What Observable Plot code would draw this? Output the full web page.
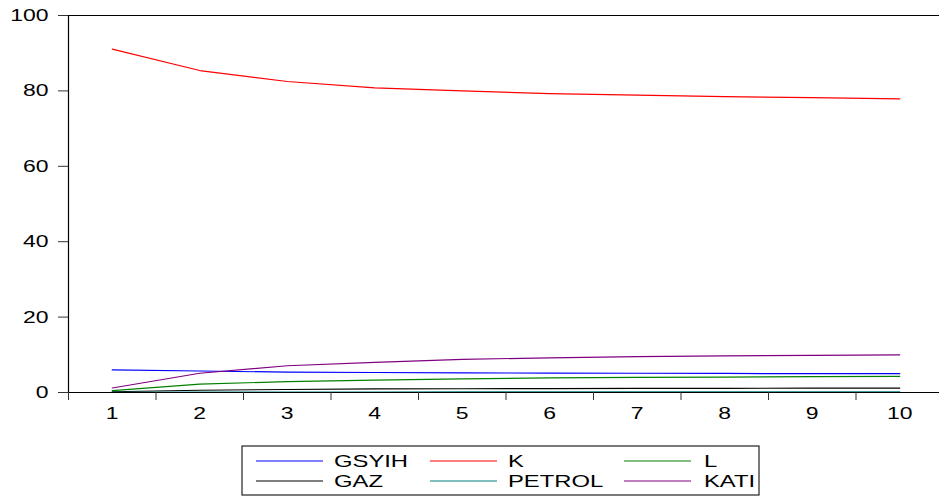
<!DOCTYPE html>
<html>
<head>
<meta charset="utf-8">
<script src="https://cdn.jsdelivr.net/npm/d3@7"></script>
<script src="https://cdn.jsdelivr.net/npm/@observablehq/plot@0.6"></script>
<style>
  html, body { margin: 0; padding: 0; background: white; }
  #wrap { position: relative; width: 939px; height: 497px; }
  #legend { position: absolute; left: 0; top: 0; }
</style>
</head>
<body>
<div id="wrap"></div>
<script>
const periods = [1, 2, 3, 4, 5, 6, 7, 8, 9, 10];
const seriesNames = ["GSYIH", "K", "L", "GAZ", "PETROL", "KATI"];
const seriesColors = ["#0000ff", "#ff0000", "#008000", "#000000", "#008080", "#800080"];
const gsyih  = [6.0, 5.7, 5.4, 5.3, 5.2, 5.15, 5.1, 5.05, 5.0, 5.0];
const kSer   = [91.1, 85.4, 82.5, 80.8, 80.0, 79.3, 78.9, 78.5, 78.2, 77.9];
const lSer   = [0.5, 2.2, 2.9, 3.3, 3.6, 3.9, 4.0, 4.1, 4.2, 4.3];
const gaz    = [0.2, 0.6, 0.8, 0.95, 1.0, 1.05, 1.1, 1.1, 1.15, 1.15];
const petrol = [0.05, 0.1, 0.12, 0.13, 0.14, 0.14, 0.15, 0.15, 0.15, 0.15];
const kati   = [1.2, 5.1, 7.1, 8.0, 8.8, 9.2, 9.5, 9.7, 9.85, 10.0];
const yTicks = [0, 20, 40, 60, 80, 100];

const seriesValues = [gsyih, kSer, lSer, gaz, petrol, kati];
const data = [];
seriesNames.forEach((name, i) => {
  periods.forEach((p, j) => data.push({ series: name, period: p, value: seriesValues[i][j] }));
});
const boundaries = periods.map(p => p - 0.5);

const chart = Plot.plot({
  width: 939,
  height: 440,
  marginLeft: 68,
  marginRight: -4,
  marginTop: 15,
  marginBottom: 48,
  style: { fontFamily: "'Liberation Sans', Arial, sans-serif", fontSize: "17px", color: "black", background: "white" },
  x: { type: "linear", domain: [0.5, 10.5], label: null },
  y: { domain: [0, 100], label: null },
  color: { domain: seriesNames, range: seriesColors },
  marks: [
    Plot.lineY(data, { x: "period", y: "value", z: "series", stroke: "series", strokeWidth: 1.2 }),
    Plot.ruleY([0], { stroke: "black", strokeWidth: 1.2 }),
    Plot.ruleY([100], { stroke: "black", strokeWidth: 1.2 }),
    Plot.ruleX([0.5], { stroke: "black", strokeWidth: 1.2 }),
    Plot.axisX({ ticks: boundaries, tickSize: 8, tickFormat: () => "", stroke: "#333", label: null }),
    Plot.axisX({ ticks: periods, tickSize: 0, tickPadding: 14, tickFormat: d => String(d), label: null }),
    Plot.axisY({ ticks: yTicks, tickSize: 10, tickPadding: 10, tickFormat: d => String(d), stroke: "#333", label: null })
  ]
});
document.getElementById("wrap").appendChild(chart);

// stretch text horizontally like the original
function stretch(sel, factor) {
  sel.each(function () {
    const t = this.textContent;
    if (!t) return;
    const w = this.getComputedTextLength();
    if (w > 0) {
      this.setAttribute("textLength", w * factor);
      this.setAttribute("lengthAdjust", "spacingAndGlyphs");
    }
  });
}
stretch(d3.select(chart).selectAll("text"), 1.35);

// legend
const leg = d3.select("#wrap").append("svg")
  .attr("id", "legend")
  .attr("width", 939).attr("height", 497)
  .style("pointer-events", "none");
leg.append("rect")
  .attr("x", 242).attr("y", 446).attr("width", 517).attr("height", 49)
  .attr("fill", "none").attr("stroke", "#222").attr("stroke-width", 1.2);
const colLine = [256, 430, 624];
const colText = [334, 508, 704];
const rowY = [461, 481];
seriesNames.forEach((name, i) => {
  const r = Math.floor(i / 3), c = i % 3;
  leg.append("line")
    .attr("x1", colLine[c]).attr("x2", colLine[c] + 67)
    .attr("y1", rowY[r]).attr("y2", rowY[r])
    .attr("stroke", seriesColors[i]).attr("stroke-width", 1.2);
  leg.append("text")
    .attr("x", colText[c]).attr("y", rowY[r])
    .attr("dy", "0.36em")
    .attr("font-family", "'Liberation Sans', Arial, sans-serif")
    .attr("font-size", "17px")
    .attr("fill", "black")
    .text(name);
});
stretch(leg.selectAll("text"), 1.4);
</script>
</body>
</html>
